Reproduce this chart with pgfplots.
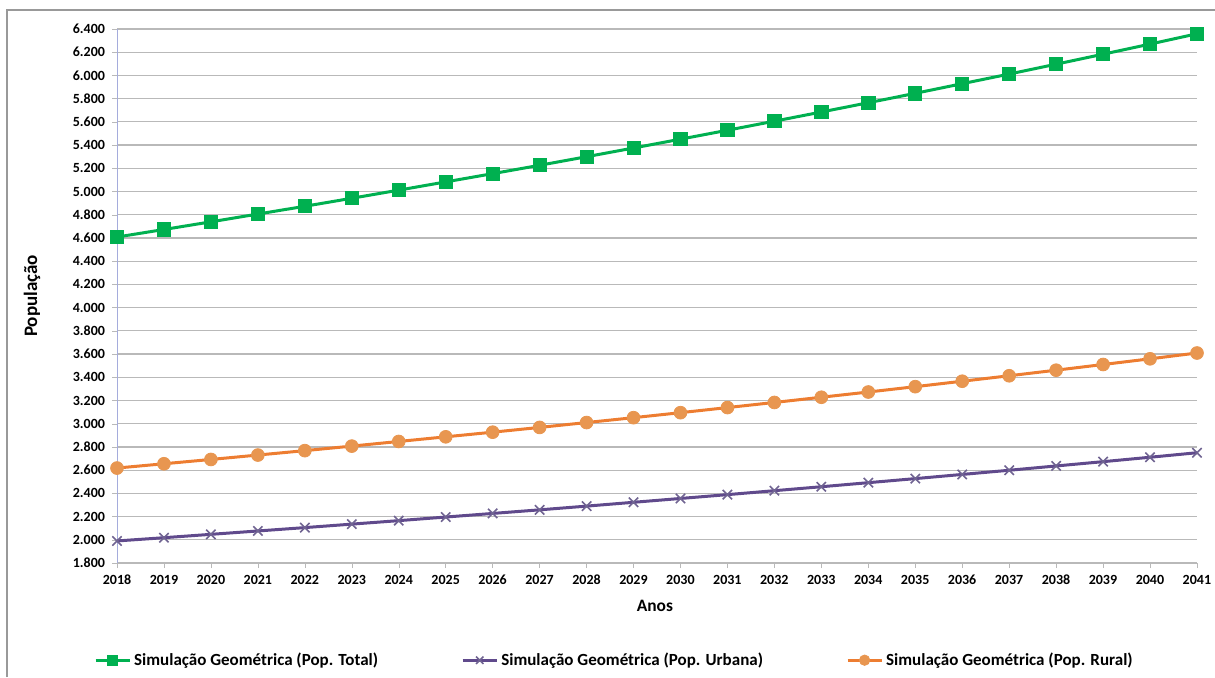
\documentclass[border=0pt]{standalone}
\usepackage{fontspec}
\setmainfont{Carlito}
\usepackage{pgfplots}
\pgfplotsset{compat=1.18}
\definecolor{cgreen}{RGB}{0,176,80}
\definecolor{cpurple}{RGB}{96,74,140}
\definecolor{cpurplemk}{RGB}{112,100,146}
\definecolor{corange}{RGB}{237,125,49}
\definecolor{corangemk}{RGB}{232,150,80}
\definecolor{cgrid}{RGB}{185,185,185}
\definecolor{cyaxis}{RGB}{165,172,220}
\begin{document}
\begin{tikzpicture}
\begin{axis}[
  at={(0,0)}, anchor=south west,
  scale only axis, width=540pt, height=267pt,
  xmin=2018, xmax=2041, ymin=1800, ymax=6400,
  xtick={2018,2019,...,2041},
  ytick={1800,2000,...,6400},
  axis x line*=bottom, axis y line*=left,
  x axis line style={draw=cgrid,-},
  y axis line style={draw=cyaxis,-},
  ymajorgrids, grid style={cgrid, line width=0.6pt},
  tick align=outside, major tick length=2.5pt,
  tick style={cgrid},
  /pgf/number format/assume math mode=true,
  /pgf/number format/1000 sep={.},
  xticklabel style={/pgf/number format/1000 sep={}},
  ticklabel style={font=\fontsize{7}{8}\selectfont\bfseries},
  xlabel={Anos}, ylabel={População},
  every axis y label/.style={at={(axis description cs:-0.0787,0.5)},rotate=90,anchor=center,font=\fontsize{9.5}{11}\selectfont\bfseries},
  every axis x label/.style={at={(axis description cs:0.498,-0.0805)},anchor=center,font=\fontsize{8.7}{10}\selectfont\bfseries},
  legend columns=3,
  legend style={at={(axis description cs:0.461,-0.182)}, anchor=center, draw=none, fill=none,
    font=\fontsize{8.5}{10}\selectfont\bfseries, /tikz/every even column/.append style={column sep=40pt},
    nodes={inner xsep=1.5pt}},
  legend image code/.code={\draw[mark repeat=2,mark phase=2,#1,mark size=2.6pt] plot coordinates {(0cm,0cm) (0.3cm,0cm) (0.6cm,0cm)};},
  legend cell align=left,
]
\addplot[cgreen, line width=1.5pt, mark=square*, mark size=3.3pt, mark options={fill=cgreen, draw=cgreen, line width=0.4pt}] coordinates {
(2018,4608)(2019,4673)(2020,4739)(2021,4806)(2022,4873)(2023,4942)(2024,5012)(2025,5083)
(2026,5154)(2027,5226)(2028,5300)(2029,5375)(2030,5451)(2031,5528)(2032,5606)(2033,5685)
(2034,5765)(2035,5846)(2036,5929)(2037,6012)(2038,6097)(2039,6183)(2040,6270)(2041,6359)};
\addlegendentry{Simulação Geométrica (Pop. Total)}
\addplot[cpurple, line width=1.5pt, mark=x, mark size=3.3pt, mark options={draw=cpurplemk, line width=0.8pt}] coordinates {
(2018,1990)(2019,2018)(2020,2047)(2021,2076)(2022,2105)(2023,2135)(2024,2165)(2025,2196)
(2026,2227)(2027,2258)(2028,2290)(2029,2323)(2030,2356)(2031,2389)(2032,2423)(2033,2457)
(2034,2492)(2035,2527)(2036,2563)(2037,2599)(2038,2636)(2039,2673)(2040,2711)(2041,2750)};
\addlegendentry{Simulação Geométrica (Pop. Urbana)}
\addplot[corange, line width=1.5pt, mark=*, mark size=3.2pt, mark options={fill=corangemk, draw=corangemk, line width=0.4pt}] coordinates {
(2018,2618)(2019,2655)(2020,2692)(2021,2730)(2022,2768)(2023,2807)(2024,2847)(2025,2887)
(2026,2927)(2027,2968)(2028,3010)(2029,3052)(2030,3095)(2031,3139)(2032,3183)(2033,3228)
(2034,3273)(2035,3319)(2036,3366)(2037,3413)(2038,3461)(2039,3510)(2040,3559)(2041,3609)};
\addlegendentry{Simulação Geométrica (Pop. Rural)}
\end{axis}
\draw[gray!80, line width=0.8pt] (-55pt,-57pt) -- (-55pt,276.5pt) -- (549pt,276.5pt);
\pgfresetboundingbox
\path (-58.5pt,-57pt) rectangle (549pt,281.5pt);
\end{tikzpicture}
\end{document}
